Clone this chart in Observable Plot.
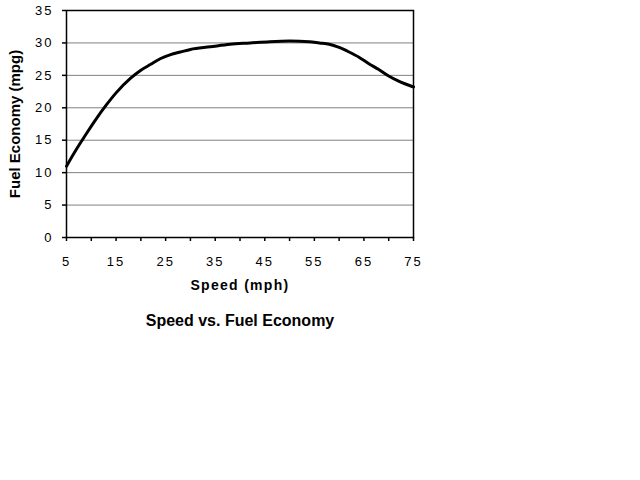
<!DOCTYPE html>
<html>
<head>
<meta charset="utf-8">
<script src="https://cdn.jsdelivr.net/npm/d3@7"></script>
<script src="https://cdn.jsdelivr.net/npm/@observablehq/plot@0.6"></script>
<style>
  html, body { margin: 0; padding: 0; background: #fff; }
  svg { display: block; }
</style>
</head>
<body>
<div id="chart"></div>
<script>
const speeds = [5, 7, 9, 11, 13, 15, 18, 20, 22, 24, 26, 28, 30, 34, 38, 42, 46, 50, 54, 56, 58, 60, 62, 64, 66, 68, 70, 72, 75];
const mpg = [11.0, 13.6, 16.0, 18.3, 20.4, 22.3, 24.6, 25.8, 26.7, 27.6, 28.2, 28.6, 29.0, 29.4, 29.8, 30.0, 30.2, 30.3, 30.2, 30.0, 29.8, 29.3, 28.6, 27.8, 26.8, 25.9, 24.9, 24.1, 23.2];
const xTicks = [5, 10, 15, 20, 25, 30, 35, 40, 45, 50, 55, 60, 65, 70, 75];
const xLabels = [5, 15, 25, 35, 45, 55, 65, 75];
const yTicks = [0, 5, 10, 15, 20, 25, 30, 35];
const gridY = [5, 10, 15, 20, 25, 30];
const xTitle = "Speed (mph)";
const yTitle = "Fuel Economy (mpg)";
const chartTitle = "Speed vs. Fuel Economy";

const data = speeds.map((s, i) => ({speed: s, mpg: mpg[i]}));

const chart = Plot.plot({
  width: 640,
  height: 480,
  marginLeft: 66,
  marginRight: 227,
  marginTop: 10,
  marginBottom: 243,
  style: {fontFamily: "'Liberation Sans', Arial, sans-serif", fontSize: "13px", color: "black", background: "white"},
  x: {domain: [5, 75]},
  y: {domain: [0, 35]},
  marks: [
    Plot.ruleY(gridY, {stroke: "#808080", strokeWidth: 1}),
    Plot.frame({stroke: "black", strokeWidth: 1.5}),
    Plot.axisY(yTicks, {tickSize: 4, tickPadding: 9, label: null, strokeWidth: 1.5, fontSize: 13}),
    Plot.axisX(xTicks, {tickSize: 4, tickFormat: () => "", label: null, strokeWidth: 1.5}),
    Plot.axisX(xLabels, {tickSize: 0, tickPadding: 19, label: null, fontSize: 13}),
    Plot.line(data, {x: "speed", y: "mpg", stroke: "black", strokeWidth: 3, curve: "monotone-x"}),
    Plot.text([xTitle], {frameAnchor: "bottom", dy: 52, fontWeight: "bold", fontSize: 14}),
    Plot.text([chartTitle], {frameAnchor: "bottom", dy: 88, fontWeight: "bold", fontSize: 16}),
    Plot.text([yTitle], {frameAnchor: "left", dx: -51, rotate: -90, textAnchor: "middle", fontWeight: "bold", fontSize: 15})
  ]
});
d3.select(chart).selectAll("g[aria-label='y-axis tick label'] text, g[aria-label='x-axis tick label'] text").attr("letter-spacing", "2px");
d3.select(chart).selectAll("text").filter(function() { return this.textContent === xTitle; }).attr("letter-spacing", "1.3px");
document.getElementById("chart").append(chart);
</script>
</body>
</html>
